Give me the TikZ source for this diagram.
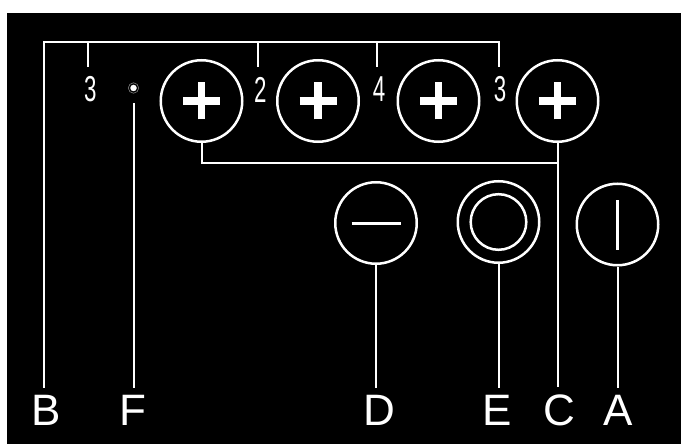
\documentclass[tikz,border=0pt]{standalone}
\usepackage{fontspec}
\usepackage{tikz}
\usetikzlibrary{positioning}
\newfontfamily\pinsans{Liberation Sans}
\newcommand\pinfont{\fontsize{44}{44}\pinsans}
\newcommand\numfont{\fontsize{36}{36}\pinsans}

\begin{document}
\begin{tikzpicture}[
      x=1pt, y=-1pt,
      wire/.style={draw=white, line width=2pt},
      jack/.style={
          draw=white, circle, line width=2.5pt,
          minimum size=81.5pt, inner sep=0pt
        },
      sign/.style={draw=white, line width=7.5pt},
      thinsign/.style={draw=white, line width=3pt},
      pin/.style={
          text=white, font=\pinfont, inner sep=0pt,
          outer sep=7pt, anchor=base
        },
      num/.style={text=white, font=\numfont, inner sep=0pt}
    ]
    \useasboundingbox (0,0) rectangle (681,444);
    \fill[black] (7,13) rectangle (681,444);

    % ── Plus jacks (top row) ──
    \foreach \n/\x in {1/201.5, 2/318, 3/438.5, 4/557.5} {
        \node[jack] (p\n) at (\x,101) {};
        \draw[sign] ([xshift=-18.5pt]p\n.center) -- ([xshift=18.5pt]p\n.center);
        \draw[sign] ([yshift=-18.5pt]p\n.center) -- ([yshift=18.5pt]p\n.center);
      }

    % ── Numbers and small dot ──
    \node[num] (n1) at (90.3,89.5)  {\scalebox{0.62}[1]{3}};
    \node[num] (n2) at (260.3,89.5) {\scalebox{0.62}[1]{2}};
    \node[num] (n3) at (379,89.5)   {\scalebox{0.62}[1]{4}};
    \node[num] (n4) at (500,89.5)   {\scalebox{0.62}[1]{3}};
    \node[circle, fill=white, inner sep=0pt, minimum size=6.5pt] (dot) at (133.5,88) {};
    \draw[gray, line width=0.6pt] (dot) circle (5.2);

    % ── Lower jacks ──
    \node[jack] (mi)   at (376,223)     {};
    \draw[thinsign] ([xshift=-24.5pt]mi.center) -- ([xshift=24.5pt]mi.center);
    \node[jack] (ring) at (498.5,222)   {};
    \draw[white, line width=2.5pt] (ring) circle (27.8);
    \node[jack] (one)  at (617.5,224.5) {};
    \draw[thinsign] ([yshift=-25pt]one.center) -- ([yshift=25pt]one.center);

    % ── Pin letters ──
    \node[pin] (lB) at (46.5,425) {B};
    \node[pin] (lF) at (133,425)  {F};
    \node[pin] (lD) at (379,425)  {D};
    \node[pin] (lE) at (497,425)  {E};
    \node[pin] (lC) at (559,425)  {C};
    \node[pin] (lA) at (618,425)  {A};

    % ── Bus to B with ticks ──
    \coordinate (busL) at (43.5,42);
    \coordinate (busR) at (499,42);
    \draw[wire] (busL |- lB.north) -- (busL) -- (busR) -- ++(0,25);
    \foreach \x in {88, 258, 377}
    \draw[wire] (\x,42) -- ++(0,25);

    % ── F from the dot ──
    \draw[wire] (dot |- lF.north) -- ([yshift=-15pt]dot.center);

    % ── C joins first and last plus ──
    \coordinate (cj) at ([yshift=-19.5pt]p4.south);
    \draw[wire] (p1.south) |- (cj);
    \draw[wire] (p4.south) -- (p4.south |- lC.north);

    % ── D, E, A ──
    \draw[wire] (mi.south)   -- (mi.south |- lD.north);
    \draw[wire] (ring.south) -- (ring.south |- lE.north);
    \draw[wire] (one.south)  -- (one.south |- lA.north);

  \end{tikzpicture}
\end{document}
